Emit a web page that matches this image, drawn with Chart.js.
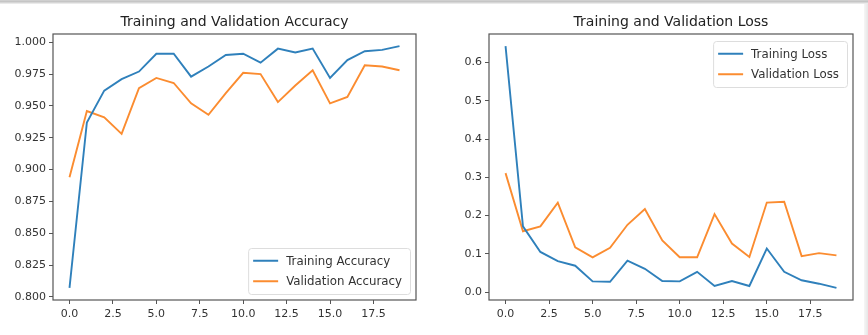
<!DOCTYPE html>
<html>
<head>
<meta charset="utf-8">
<script src="https://cdn.jsdelivr.net/npm/chart.js"></script>
<style>
    html, body { margin: 0; padding: 0; background: #fff; }
    #frame {
        position: relative; width: 868px; height: 335px; overflow: hidden; background: #fff;
    }
    #frame::before {
        content: ''; position: absolute; left: 0; top: 0; width: 868px; height: 4px;
        background: linear-gradient(#d4d4d4, #c4c4c4 40%, #f4f4f4);
    }
    #frame::after {
        content: ''; position: absolute; left: 864px; top: 4px; width: 4px; height: 331px;
        background: linear-gradient(90deg, #f6f6f6, #e6e6e6);
    }
    canvas { position: absolute; top: 0; }
    #accChart { left: 0; }
    #lossChart { left: 434px; }
</style>
</head>
<body>
<div id="frame">
    <canvas id="accChart" width="434" height="335"></canvas>
    <canvas id="lossChart" width="430" height="335"></canvas>
</div>
<script>
const epochs = [0, 1, 2, 3, 4, 5, 6, 7, 8, 9, 10, 11, 12, 13, 14, 15, 16, 17, 18, 19];
const xTicks = [0, 2.5, 5, 7.5, 10, 12.5, 15, 17.5];

const trainAcc = [0.807, 0.937, 0.962, 0.971, 0.977, 0.991, 0.991, 0.973, 0.981, 0.990,
                  0.991, 0.984, 0.995, 0.992, 0.995, 0.972, 0.986, 0.993, 0.994, 0.997];
const valAcc = [0.894, 0.946, 0.941, 0.928, 0.964, 0.972, 0.968, 0.952, 0.943, 0.960,
                0.976, 0.975, 0.953, 0.966, 0.978, 0.952, 0.957, 0.982, 0.981, 0.978];
const accTicks = [0.800, 0.825, 0.850, 0.875, 0.900, 0.925, 0.950, 0.975, 1.000];

const trainLoss = [0.643, 0.172, 0.105, 0.081, 0.069, 0.028, 0.027, 0.082, 0.061, 0.029,
                   0.028, 0.053, 0.016, 0.029, 0.016, 0.114, 0.053, 0.031, 0.022, 0.011];
const valLoss = [0.311, 0.159, 0.172, 0.234, 0.117, 0.091, 0.116, 0.176, 0.217, 0.135,
                 0.091, 0.091, 0.204, 0.127, 0.092, 0.234, 0.236, 0.094, 0.102, 0.096];
const lossTicks = [0.0, 0.1, 0.2, 0.3, 0.4, 0.5, 0.6];

const BLUE = '#2f80bb';
const ORANGE = '#fb8c30';
const FONT = "'DejaVu Sans', sans-serif";
const TEXT = '#333';

// axis limits with a 5% margin on each side, like matplotlib's autoscale
function paddedRange(values, frac) {
    const lo = Math.min(...values), hi = Math.max(...values);
    const m = (hi - lo) * frac;
    return [lo - m, hi + m];
}

// full box around the plotting area plus the title above it
const frameBox = {
    id: 'frameBox',
    afterDraw(chart, args, opts) {
        const { ctx, chartArea: a } = chart;
        ctx.save();
        ctx.strokeStyle = '#555';
        ctx.lineWidth = 1.2;
        ctx.strokeRect(a.left, a.top, a.right - a.left, a.bottom - a.top);
        ctx.fillStyle = '#222';
        ctx.font = '14px ' + FONT;
        ctx.textAlign = 'center';
        ctx.textBaseline = 'alphabetic';
        ctx.fillText(opts.text, (a.left + a.right) / 2, a.top - 8);
        ctx.restore();
    }
};

// matplotlib-style legend box inside the axes
const boxLegend = {
    id: 'boxLegend',
    afterDraw(chart, args, opts) {
        const { ctx, chartArea: a } = chart;
        const sets = chart.data.datasets;
        ctx.save();
        ctx.font = '11.8px ' + FONT;
        const textW = Math.max(...sets.map(d => ctx.measureText(d.label).width));
        const w = textW + 46, rowH = 20.5, h = sets.length * rowH + 5;
        const x = a.right - 6 - w;
        const y = opts.corner === 'lower right' ? a.bottom - 6 - h : a.top + 7;
        ctx.fillStyle = 'rgba(255,255,255,0.85)';
        ctx.strokeStyle = '#ddd';
        ctx.lineWidth = 1;
        ctx.beginPath();
        ctx.roundRect(x + 0.5, y + 0.5, w, h, 3);
        ctx.fill();
        ctx.stroke();
        sets.forEach((d, i) => {
            const cy = y + 2.5 + rowH * i + rowH / 2;
            ctx.strokeStyle = d.borderColor;
            ctx.lineWidth = 2;
            ctx.beginPath();
            ctx.moveTo(x + 5, cy);
            ctx.lineTo(x + 30, cy);
            ctx.stroke();
            ctx.fillStyle = TEXT;
            ctx.textBaseline = 'middle';
            ctx.fillText(d.label, x + 38, cy + 1);
        });
        ctx.restore();
    }
};

function makeChart(id, cfg) {
    const [ymin, ymax] = paddedRange(cfg.series.flatMap(s => s.data), 0.05);
    return new Chart(document.getElementById(id), {
        type: 'line',
        data: {
            datasets: cfg.series.map(s => ({
                label: s.label,
                data: epochs.map((e, i) => ({ x: e, y: s.data[i] })),
                borderColor: s.color,
                borderWidth: 1.9,
                pointRadius: 0,
                tension: 0,
                fill: false
            }))
        },
        options: {
            responsive: false,
            animation: false,
            events: [],
            layout: { padding: { top: 34, right: cfg.padRight, left: 0, bottom: 0 } },
            plugins: {
                legend: { display: false },
                tooltip: { enabled: false },
                frameBox: { text: cfg.title },
                boxLegend: { corner: cfg.legendCorner }
            },
            scales: {
                x: {
                    type: 'linear',
                    min: -0.95, max: 19.95,
                    afterBuildTicks: s => { s.ticks = xTicks.map(v => ({ value: v })); },
                    afterFit: s => { s.height = 35; },
                    grid: { drawOnChartArea: false, drawTicks: true, tickLength: 4, color: '#555' },
                    border: { display: false },
                    ticks: {
                        color: TEXT, font: { family: FONT, size: 11 }, padding: 4,
                        maxRotation: 0, autoSkip: false,
                        callback: v => v.toFixed(1)
                    }
                },
                y: {
                    type: 'linear',
                    min: ymin, max: ymax,
                    afterBuildTicks: s => { s.ticks = cfg.yTicks.map(v => ({ value: v })); },
                    afterFit: s => { s.width = cfg.yWidth; },
                    grid: { drawOnChartArea: false, drawTicks: true, tickLength: 4, color: '#555' },
                    border: { display: false },
                    ticks: {
                        color: TEXT, font: { family: FONT, size: 11 }, padding: 3,
                        autoSkip: false,
                        callback: v => v.toFixed(cfg.decimals)
                    }
                }
            }
        },
        plugins: [frameBox, boxLegend]
    });
}

makeChart('accChart', {
    title: 'Training and Validation Accuracy',
    series: [
        { label: 'Training Accuracy', data: trainAcc, color: BLUE },
        { label: 'Validation Accuracy', data: valAcc, color: ORANGE }
    ],
    yTicks: accTicks,
    decimals: 3,
    yWidth: 53,
    padRight: 18,
    legendCorner: 'lower right'
});

makeChart('lossChart', {
    title: 'Training and Validation Loss',
    series: [
        { label: 'Training Loss', data: trainLoss, color: BLUE },
        { label: 'Validation Loss', data: valLoss, color: ORANGE }
    ],
    yTicks: lossTicks,
    decimals: 1,
    yWidth: 55,
    padRight: 11,
    legendCorner: 'upper right'
});
</script>
</body>
</html>
